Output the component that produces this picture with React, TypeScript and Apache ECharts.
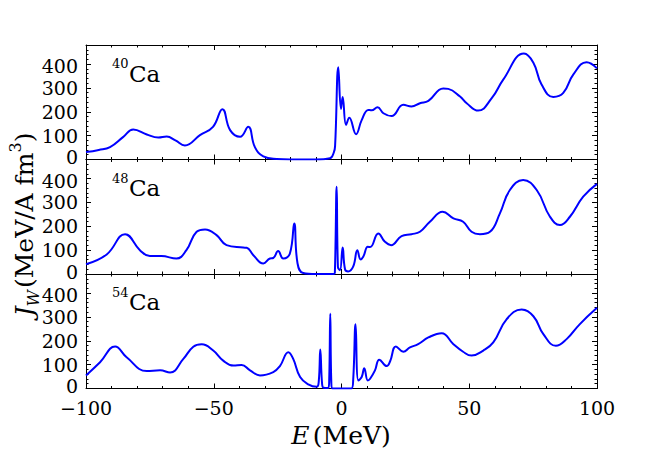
import React, { useEffect, useRef } from "react";
import * as echarts from "echarts";

// ---- data ----
const ca40E = [-100, -95, -90.6, -85.4, -81.5, -76.2, -71.7, -68.4, -65, -61.3, -55.4, -50.3, -46.6, -43.6, -39.7, -36.5, -33.9, -30.6, -25.4, -20, -10, -4.5, -3, -2.5, -1.25, -0.2, 0.45, 1.8, 3.05, 5.7, 7.9, 10.5, 11.8, 14.1, 16.4, 19.6, 24.2, 27.4, 30.7, 34, 39.8, 41.8, 46.4, 49, 53.5, 58.8, 63.3, 71.4, 75.1, 78.3, 82.9, 86.8, 90.7, 95.9, 100];
const ca40J = [31, 40, 52, 95, 126, 105, 92, 96, 80, 59, 102, 137, 211, 123, 95, 137, 52, 13, 2, 0, 0, 5, 30, 59, 387, 212, 262, 145, 175, 106, 165, 208, 206, 219, 194, 182, 229, 222, 236, 246, 298, 296, 264, 236, 205, 257, 335, 444, 406, 314, 262, 279, 356, 408, 382];

const ca48E = [-100, -91.9, -84.7, -78.9, -75, -70.5, -64.6, -60.7, -56.7, -53.4, -48.9, -45, -38.5, -37.1, -34.5, -30.6, -28, -26.7, -24.8, -22.8, -20.2, -18.5, -17.2, -15, -10, -3, -2.6, -1.9, -1.4, -0.6, 0.45, 1.4, 2.6, 4.6, 6.2, 7.5, 8.5, 10.3, 11.2, 14.4, 17, 19.4, 23.5, 27.4, 30.7, 34.6, 39.6, 43.8, 47.6, 50.9, 54.2, 58.1, 62, 65.9, 71.1, 76.4, 81.6, 85.5, 89.4, 94.6, 100];
const ca48J = [41, 82, 167, 100, 75, 75, 65, 100, 177, 187, 163, 121, 111, 110, 79, 44, 65, 67, 96, 65, 86, 212, 44, 4, 0, 0, 5, 366, 30, 16, 111, 19, 11, 32, 100, 61, 72, 114, 113, 170, 135, 121, 159, 167, 177, 219, 261, 233, 219, 177, 167, 177, 254, 352, 394, 352, 240, 205, 240, 324, 378];

const ca54E = [-100, -94.5, -88.6, -84.1, -76.2, -71, -67.1, -61.9, -58, -54.7, -50.2, -46.3, -42.3, -39.1, -35.8, -31.9, -26.7, -24.1, -20.8, -18.9, -16.2, -13, -9.7, -8.9, -8.3, -7.6, -7, -5.2, -4.8, -4.4, -4.0, -3.5, 3.9, 4.6, 5.5, 6.6, 7.9, 8.9, 10.3, 11.2, 13.1, 14.8, 17.7, 19, 21.3, 24.2, 26.8, 30, 34, 39.2, 43.8, 47.6, 50.9, 55.5, 59.4, 64.6, 70.5, 75.1, 79, 83.9, 88.1, 93.2, 100];
const ca54J = [55, 110, 176, 131, 73, 76, 67, 124, 175, 185, 159, 117, 96, 99, 76, 55, 69, 94, 152, 124, 48, 17, 7, 30, 163, 20, 3, 2, 40, 313, 30, 0, 0, 41, 269, 34, 48, 85, 34, 41, 76, 121, 94, 113, 176, 154, 172, 186, 214, 232, 186, 154, 138, 159, 193, 290, 331, 303, 228, 179, 207, 269, 338];

const panelMass = ["40", "48", "54"];
const xTicks = { min: -100, max: 100, step: 50 };
const yTicks = { min: 0, max: 480, step: 100 };

const FONT = "DejaVu Serif";

export default function App() {
  const ref = useRef<HTMLDivElement>(null);
  useEffect(() => {
    if (!ref.current) return;
    const chart = echarts.init(ref.current, null, { renderer: "svg" });
    const series = [
      [ca40E, ca40J],
      [ca48E, ca48J],
      [ca54E, ca54J],
    ];
    const gridTop = [45, 159.5, 274];
    const gridH = 114.5;
    const grids = gridTop.map((t) => ({ left: 86, width: 511, top: t, height: gridH, show: false }));
    const lineStyle = { color: "#000", width: 1 };
    const xAxes: any[] = [];
    const yAxes: any[] = [];
    const tickFont = { fontFamily: FONT, fontSize: 19, color: "#000" };
    for (let i = 0; i < 3; i++) {
      ["bottom", "top"].forEach((pos) => {
        xAxes.push({
          type: "value",
          gridIndex: i,
          position: pos,
          min: xTicks.min,
          max: xTicks.max,
          interval: xTicks.step,
          axisLine: { show: true, onZero: false, lineStyle },
          axisTick: { show: true, inside: true, length: 5, lineStyle },
          minorTick: { show: true, splitNumber: 5, length: 2.5, lineStyle },
          splitLine: { show: false },
          axisLabel: {
            show: i === 2 && pos === "bottom",
            margin: 10,
            ...tickFont,
            formatter: (v: number) => String(v).replace("-", "\u2212"),
          },
        });
      });
      ["left", "right"].forEach((pos) => {
        yAxes.push({
          type: "value",
          gridIndex: i,
          position: pos,
          min: yTicks.min,
          max: yTicks.max,
          interval: yTicks.step,
          axisLine: { show: true, onZero: false, lineStyle },
          axisTick: { show: true, inside: true, length: 5, lineStyle },
          minorTick: { show: true, splitNumber: 5, length: 2.5, lineStyle },
          splitLine: { show: false },
          axisLabel: {
            show: pos === "left",
            showMaxLabel: false,
            margin: 8,
            ...tickFont,
            formatter: (v: number) => (v === 0 ? "{lo|0}" : v === 400 ? "{hi|400}" : String(v)),
            rich: {
              lo: { ...tickFont, padding: [0, 0, 5, 0] },
              hi: { ...tickFont, padding: [4, 0, 0, 0] },
            },
          },
        });
      });
    }
    const seriesOpts = series.map(([e, j], i) => ({
      type: "line",
      xAxisIndex: i * 2,
      yAxisIndex: i * 2,
      data: e.map((x, k) => [x, j[k]]),
      showSymbol: false,
      smooth: 0.45,
      lineStyle: { color: "#0000ff", width: 2 },
      itemStyle: { color: "#0000ff" },
      z: 1,
    }));
    const graphics: any[] = [];
    const labelCenter = [73.5, 188, 302];
    panelMass.forEach((m, i) => {
      graphics.push({
        type: "text",
        x: 112,
        y: labelCenter[i] - 10,
        style: { text: m, fontFamily: FONT, fontSize: 13, fill: "#000", align: "left", verticalAlign: "middle" },
      });
      graphics.push({
        type: "text",
        x: 129,
        y: labelCenter[i],
        style: { text: "Ca", fontFamily: FONT, fontSize: 23, fill: "#000", align: "left", verticalAlign: "middle" },
      });
    });
    graphics.push({
      type: "text",
      x: 24,
      y: 224.5,
      rotation: Math.PI / 2,
      style: {
        text: "{it|J}{sub|W}{n|(MeV/A fm}{sup|3}{n|)}",
        align: "center",
        verticalAlign: "middle",
        fill: "#000",
        rich: {
          it: { fontFamily: FONT, fontStyle: "italic", fontSize: 25, lineHeight: 34, verticalAlign: "middle" },
          sub: { fontFamily: FONT, fontStyle: "italic", fontSize: 16, lineHeight: 34, verticalAlign: "bottom", padding: [0, 2, 0, 0] },
          n: { fontFamily: FONT, fontSize: 25, lineHeight: 34, verticalAlign: "middle" },
          sup: { fontFamily: FONT, fontSize: 16, lineHeight: 34, verticalAlign: "top" },
        },
      },
    });
    graphics.push({
      type: "text",
      x: 341,
      y: 435,
      style: {
        text: "{it|E} {n|(MeV)}",
        align: "center",
        verticalAlign: "middle",
        fill: "#000",
        rich: {
          it: { fontFamily: FONT, fontStyle: "italic", fontSize: 25 },
          n: { fontFamily: FONT, fontSize: 25 },
        },
      },
    });
    chart.setOption({
      animation: false,
      backgroundColor: "#fff",
      grid: grids,
      xAxis: xAxes,
      yAxis: yAxes,
      series: seriesOpts,
      graphic: graphics,
    });
    return () => chart.dispose();
  }, []);
  return <div ref={ref} style={{ width: 664, height: 457, position: "absolute", left: 0, top: 0 }} />;
}
